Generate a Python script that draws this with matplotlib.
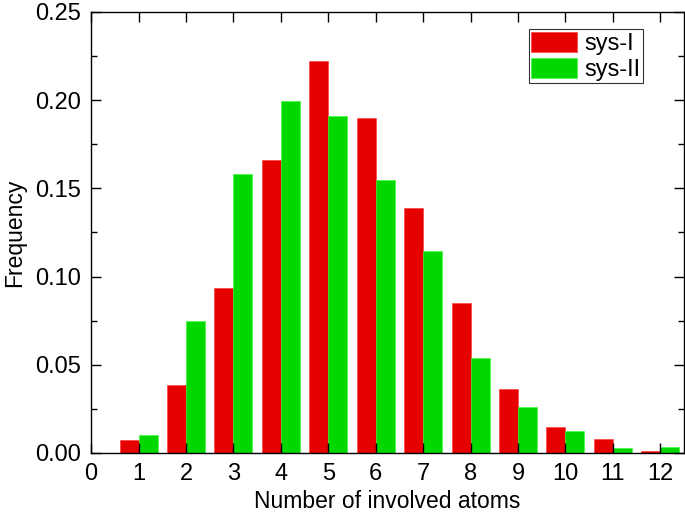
import matplotlib
matplotlib.use("Agg")
import matplotlib.pyplot as plt
import numpy as np

plt.rcParams['font.family'] = ['Liberation Sans', 'DejaVu Sans']

atoms = [1, 2, 3, 4, 5, 6, 7, 8, 9, 10, 11, 12]
sys_I = [0.0074, 0.0385, 0.0935, 0.166, 0.222, 0.190, 0.139, 0.085, 0.036, 0.0148, 0.0078, 0.001]
sys_II = [0.0102, 0.075, 0.158, 0.1995, 0.191, 0.155, 0.1145, 0.054, 0.026, 0.0125, 0.0028, 0.0034]
xticks = list(range(0, 13))
yticks = [0.00, 0.05, 0.10, 0.15, 0.20, 0.25]

fig = plt.figure(figsize=(6.85, 5.14), dpi=100)
ax = fig.add_axes([0.133, 0.1187, 0.8655, 0.858])

x = np.array(atoms)
w = 0.4
ax.bar(x - w/2, sys_I, width=w, color='#e60000', edgecolor='#ff3030', linewidth=0.4, label='sys-I')
ax.bar(x + w/2, sys_II, width=w, color='#00d800', edgecolor='#30ff30', linewidth=0.4, label='sys-II')

ax.set_xlim(0, 12.5)
ax.set_ylim(0, 0.25)
ax.set_xticks(xticks)
ax.set_yticks(yticks)
ax.set_yticklabels([f"{v:.2f}" for v in yticks])
ax.set_yticks(np.arange(0.025, 0.25, 0.05), minor=True)
ax.tick_params(axis='both', which='both', direction='in', top=True, right=True, labelsize=17, width=1)
ax.tick_params(axis='both', which='major', length=7, pad=7)
ax.tick_params(axis='both', which='minor', length=4)
ax.set_xlabel('Number of involved atoms', fontsize=16.5, labelpad=4)
ax.set_ylabel('Frequency', fontsize=16.5, labelpad=7)
for s in ax.spines.values():
    s.set_linewidth(1)

leg = ax.legend(loc='upper right', bbox_to_anchor=(0.931, 0.961), fontsize=17, frameon=True, fancybox=False,
                edgecolor='black', handlelength=1.95, handleheight=0.93, borderpad=0.1, labelspacing=0.12,
                handletextpad=0.3, borderaxespad=0.0)
leg.get_frame().set_linewidth(0.8)

fig.savefig('out.png', dpi=100)
